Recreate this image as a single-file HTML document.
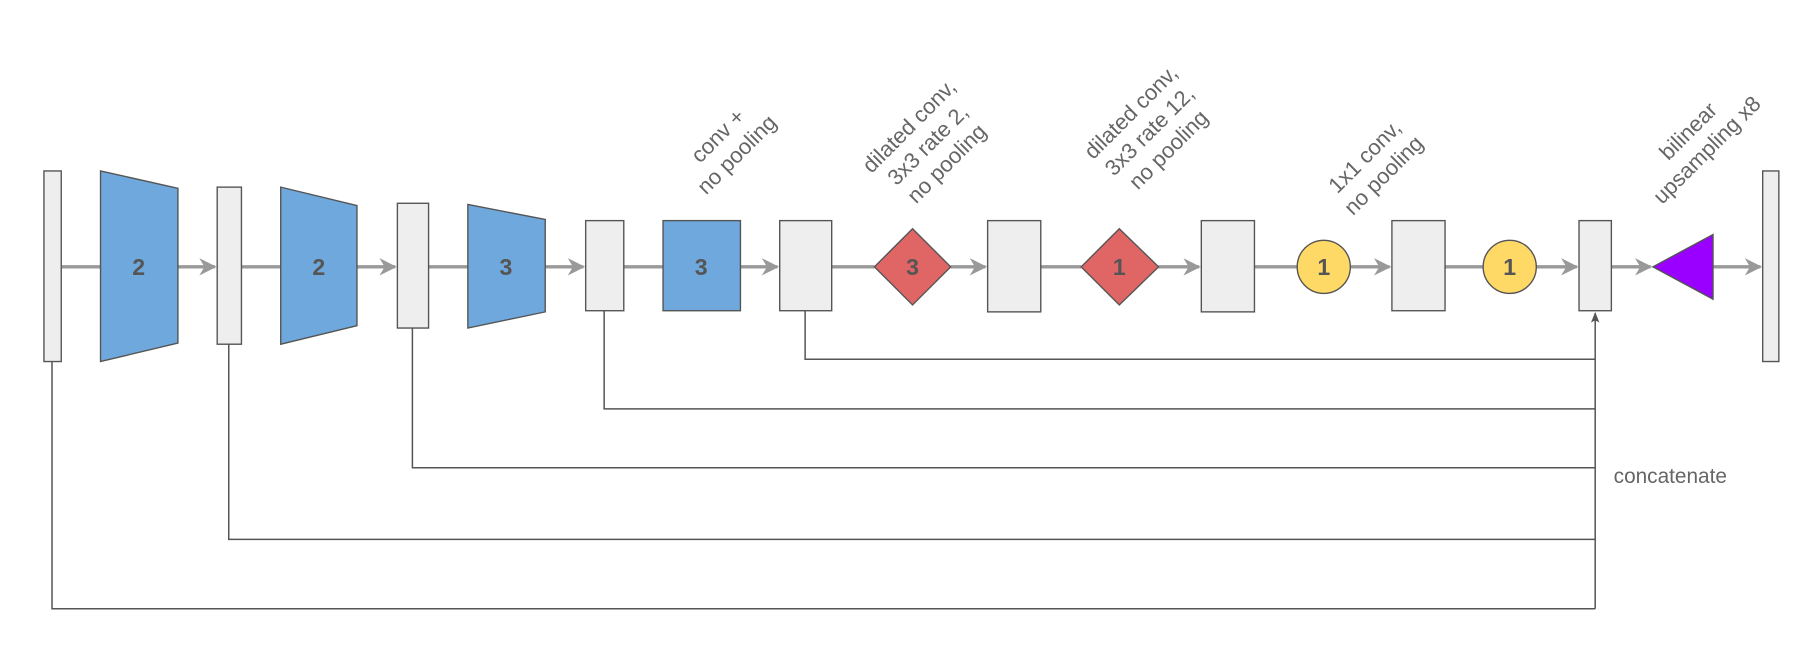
<!DOCTYPE html>
<html><head><meta charset="utf-8"><style>
html,body{margin:0;padding:0;background:#fff;}
svg{display:block;}
text{font-family:"Liberation Sans",sans-serif;}
</style></head><body>
<svg width="1802" height="648" viewBox="0 0 1560 561" xmlns="http://www.w3.org/2000/svg">
<defs>
<marker id="ag" viewBox="0 0 10 10" refX="9" refY="5" markerWidth="5" markerHeight="5" orient="auto" markerUnits="strokeWidth">
<path d="M0,0 L10,5 L0,10 L3,5 z" fill="#999"/></marker>
<marker id="ad" viewBox="0 0 10 10" refX="9" refY="5" markerWidth="7" markerHeight="7" orient="auto" markerUnits="strokeWidth">
<path d="M0,1 L10,5 L0,9 L2,5 z" fill="#555"/></marker>
</defs>
<g stroke="#999" stroke-width="3" fill="none">
<line x1="53" y1="231" x2="87" y2="231"/>
<line x1="154" y1="231" x2="186" y2="231" marker-end="url(#ag)"/>
<line x1="209" y1="231" x2="243" y2="231"/>
<line x1="309" y1="231" x2="342" y2="231" marker-end="url(#ag)"/>
<line x1="371" y1="231" x2="405" y2="231"/>
<line x1="472" y1="231" x2="505" y2="231" marker-end="url(#ag)"/>
<line x1="540" y1="231" x2="574" y2="231"/>
<line x1="641" y1="231" x2="673" y2="231" marker-end="url(#ag)"/>
<line x1="720" y1="231" x2="757" y2="231"/>
<line x1="823" y1="231" x2="853" y2="231" marker-end="url(#ag)"/>
<line x1="901" y1="231" x2="936" y2="231"/>
<line x1="1003" y1="231" x2="1038" y2="231" marker-end="url(#ag)"/>
<line x1="1086" y1="231" x2="1123" y2="231"/>
<line x1="1169" y1="231" x2="1203" y2="231" marker-end="url(#ag)"/>
<line x1="1251" y1="231" x2="1284" y2="231"/>
<line x1="1330" y1="231" x2="1365" y2="231" marker-end="url(#ag)"/>
<line x1="1395" y1="231" x2="1429" y2="231" marker-end="url(#ag)"/>
<line x1="1483" y1="231" x2="1524" y2="231" marker-end="url(#ag)"/>
</g>
<g stroke="#555" stroke-width="1.3" fill="none">
<polyline points="697,269 697,311 1381,311"/>
<polyline points="523,269 523,354 1381,354"/>
<polyline points="357,284 357,405 1381,405"/>
<polyline points="198,298 198,467 1381,467"/>
<polyline points="45,313 45,527 1381,527"/>
<line x1="1381" y1="527" x2="1381" y2="271" marker-end="url(#ad)"/>
</g>
<g fill="#eeeeee" stroke="#555" stroke-width="1.2">
<rect x="38" y="148" width="15" height="165"/>
<rect x="188" y="162" width="21" height="136"/>
<rect x="344" y="176" width="27" height="108"/>
<rect x="507" y="191" width="33" height="78"/>
<rect x="675" y="191" width="45" height="78"/>
<rect x="855" y="191" width="46" height="79"/>
<rect x="1040" y="191" width="46" height="79"/>
<rect x="1205" y="191" width="46" height="78"/>
<rect x="1367" y="191" width="28" height="78"/>
<rect x="1526" y="148" width="14" height="165"/>
</g>
<g fill="#6fa8dc" stroke="#555" stroke-width="1.2">
<polygon points="87,148 154,163 154,297 87,313"/>
<polygon points="243,162 309,178 309,282 243,298"/>
<polygon points="405,177 472,190 472,270 405,284"/>
<rect x="574" y="191" width="67" height="78"/>
</g>
<g fill="#e06666" stroke="#555" stroke-width="1.2">
<polygon points="790,198 823,231 790,264 757,231"/>
<polygon points="969,198 1003,231 969,264 936,231"/>
</g>
<g fill="#ffd966" stroke="#555" stroke-width="1.2">
<circle cx="1146" cy="231" r="23"/>
<circle cx="1307" cy="231" r="23"/>
</g>
<polygon points="1431,231 1483,203 1483,259" fill="#9900ff" stroke="#555" stroke-width="1.2"/>
<g fill="#555" font-size="20" font-weight="bold" text-anchor="middle">
<text x="120" y="238">2</text>
<text x="276" y="238">2</text>
<text x="438" y="238">3</text>
<text x="607" y="238">3</text>
<text x="790" y="238">3</text>
<text x="969" y="238">1</text>
<text x="1146" y="238">1</text>
<text x="1307" y="238">1</text>
</g>
<g fill="#666" font-size="19" text-anchor="middle">
<text transform="translate(626,122) rotate(-45)"><tspan x="0" dy="0">conv +</tspan><tspan x="0" dy="23">no pooling</tspan></text>
<text transform="translate(800,122) rotate(-45)"><tspan x="0" dy="-12">dilated conv,</tspan><tspan x="0" dy="23">3x3 rate 2,</tspan><tspan x="0" dy="23">no pooling</tspan></text>
<text transform="translate(992,110) rotate(-45)"><tspan x="0" dy="-12">dilated conv,</tspan><tspan x="0" dy="23">3x3 rate 12,</tspan><tspan x="0" dy="23">no pooling</tspan></text>
<text transform="translate(1186,140) rotate(-45)"><tspan x="0" dy="0">1x1 conv,</tspan><tspan x="0" dy="23">no pooling</tspan></text>
<text transform="translate(1466,118) rotate(-45)"><tspan x="0" dy="0">bilinear</tspan><tspan x="0" dy="23">upsampling x8</tspan></text>
</g>
<text x="1397" y="418" fill="#666" font-size="18">concatenate</text>
</svg>
</body></html>
